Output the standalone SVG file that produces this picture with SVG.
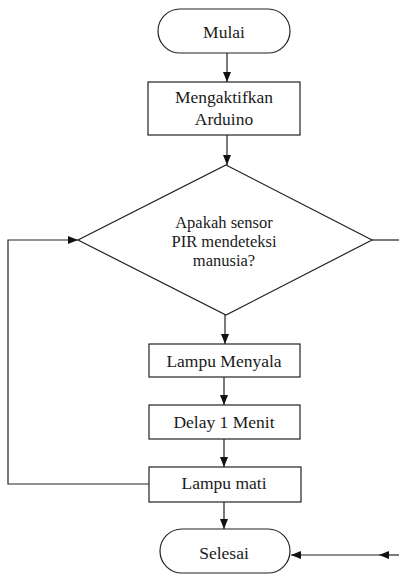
<svg xmlns="http://www.w3.org/2000/svg" width="399" height="574" viewBox="0 0 399 574">
<style>
.box{fill:#fff;stroke:#222;stroke-width:1.2}
.ln{fill:none;stroke:#222;stroke-width:1.2}
.t{font-family:"Liberation Serif","Times New Roman",serif;font-size:17.5px;fill:#1a1a1a;text-anchor:middle}
.td{font-family:"Liberation Serif","Times New Roman",serif;font-size:16.5px;fill:#1a1a1a;text-anchor:middle}
</style>
<defs>
<marker id="ah" markerUnits="userSpaceOnUse" markerWidth="10" markerHeight="10" viewBox="0 0 10 10" refX="10" refY="5" orient="auto">
<path d="M0,1 L10,5 L0,9 Z" fill="#111"/>
</marker>
</defs>
<rect width="399" height="574" fill="#fff"/>
<g id="connectors">
<line class="ln" x1="227" y1="53" x2="227" y2="82" marker-end="url(#ah)"/>
<line class="ln" x1="227" y1="135" x2="227" y2="165" marker-end="url(#ah)"/>
<line class="ln" x1="225" y1="315" x2="225" y2="344" marker-end="url(#ah)"/>
<line class="ln" x1="224" y1="377" x2="224" y2="405" marker-end="url(#ah)"/>
<line class="ln" x1="224" y1="439" x2="224" y2="467" marker-end="url(#ah)"/>
<line class="ln" x1="224" y1="502" x2="224" y2="529" marker-end="url(#ah)"/>
<polyline class="ln" points="149,484 8,484 8,240 78,240" marker-end="url(#ah)"/>
<line class="ln" x1="372" y1="240" x2="400" y2="240"/>
<line class="ln" x1="400" y1="555" x2="379" y2="555" marker-end="url(#ah)"/>
<line class="ln" x1="379" y1="555" x2="291" y2="555" marker-end="url(#ah)"/>
</g>
<g id="mulai">
<rect class="box" x="158" y="9" width="132" height="44" rx="22" ry="22"/>
<text class="t" x="224" y="38">Mulai</text>
</g>
<g id="aktifkan">
<rect class="box" x="148" y="82" width="152" height="53"/>
<text class="t" x="224" y="103">Mengaktifkan</text>
<text class="t" x="224" y="125">Arduino</text>
</g>
<g id="decision">
<polygon class="box" points="226,165 372,240 226,315 78,240"/>
<text class="td" x="224" y="228">Apakah sensor</text>
<text class="td" x="224" y="247">PIR mendeteksi</text>
<text class="td" x="224" y="266">manusia?</text>
</g>
<g id="menyala">
<rect class="box" x="149" y="344" width="151" height="33"/>
<text class="t" x="224" y="367">Lampu Menyala</text>
</g>
<g id="delay">
<rect class="box" x="149" y="405" width="151" height="34"/>
<text class="t" x="224" y="428">Delay 1 Menit</text>
</g>
<g id="mati">
<rect class="box" x="149" y="467" width="152" height="35"/>
<text class="t" x="224" y="489">Lampu mati</text>
</g>
<g id="selesai">
<rect class="box" x="160" y="529" width="130" height="44" rx="22" ry="22"/>
<text class="t" x="224" y="559">Selesai</text>
</g>
</svg>
